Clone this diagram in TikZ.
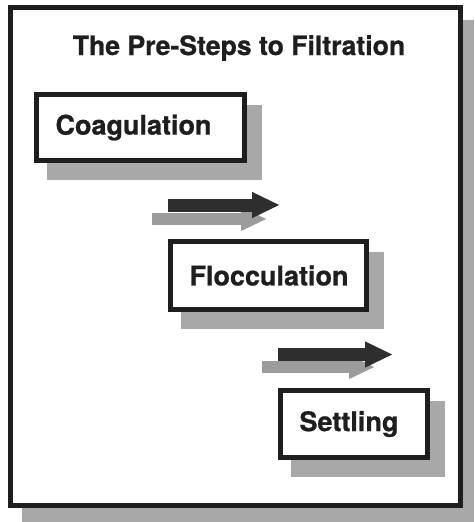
\documentclass[tikz,border=0pt]{standalone}
\usepackage{fontspec}
\setmainfont[FakeBold=0.8]{TeX Gyre Heros}
\usetikzlibrary{arrows.meta,calc,backgrounds}
\definecolor{shadowgray}{HTML}{A8A8A8}
\definecolor{inkdark}{HTML}{1E1E1E}
\definecolor{arrowdark}{HTML}{2E2E2E}
\definecolor{arrowgray}{HTML}{9C9C9C}

\begin{document}
\begin{tikzpicture}[x=1pt,y=-1pt,font=\fontsize{27}{31}\selectfont\bfseries,
  stepbox/.style={draw=inkdark,fill=white,line width=4.5pt,inner xsep=19pt,inner ysep=0pt,
    align=left,text=inkdark},
  boxshadow/.style={fill=shadowgray},
  flowdark/.style={-{Triangle[length=28pt,width=24pt]},line width=13pt,draw=arrowdark,fill=arrowdark},
  flowgray/.style={-{Triangle[length=26pt,width=22pt]},line width=12pt,draw=arrowgray,fill=arrowgray}]
\useasboundingbox (0,0) rectangle (474,522);
\node[text=inkdark,anchor=base,font=\fontsize{26.6}{31}\selectfont\bfseries] (title) at (239,55) {The Pre-Steps to Filtration};
\node[stepbox,text width=170pt,minimum height=66pt] (coag) at (140.5,127.5) {Coagulation};
\node[stepbox,text width=158pt,minimum height=68pt] (flocc) at (268.5,275.5) {Flocculation};
\node[stepbox,text width=109pt,minimum height=67pt] (settl) at (354,424) {Settling};
\begin{scope}[on background layer]
\fill[shadowgray] (22,20) rectangle (474,522);
\draw[draw=inkdark,fill=white,line width=5pt] (10.5,7.5) rectangle (460.5,505.5);
\foreach \b in {coag,flocc,settl}
  \fill[boxshadow] ($(\b.north west)+(13,13)$) rectangle ($(\b.south east)+(15,17)$);
\end{scope}
\coordinate (g1s) at (152,219); \coordinate (g1e) at (267,219);
\coordinate (d1s) at (168,205); \coordinate (d1e) at (280,205);
\coordinate (g2s) at (262,367); \coordinate (g2e) at (375,367);
\coordinate (d2s) at (278,354.5); \coordinate (d2e) at (393,354.5);
\draw[flowgray] (g1s) -- (g1e);
\draw[flowdark] (d1s) -- (d1e);
\draw[flowgray] (g2s) -- (g2e);
\draw[flowdark] (d2s) -- (d2e);
\end{tikzpicture}
\end{document}
